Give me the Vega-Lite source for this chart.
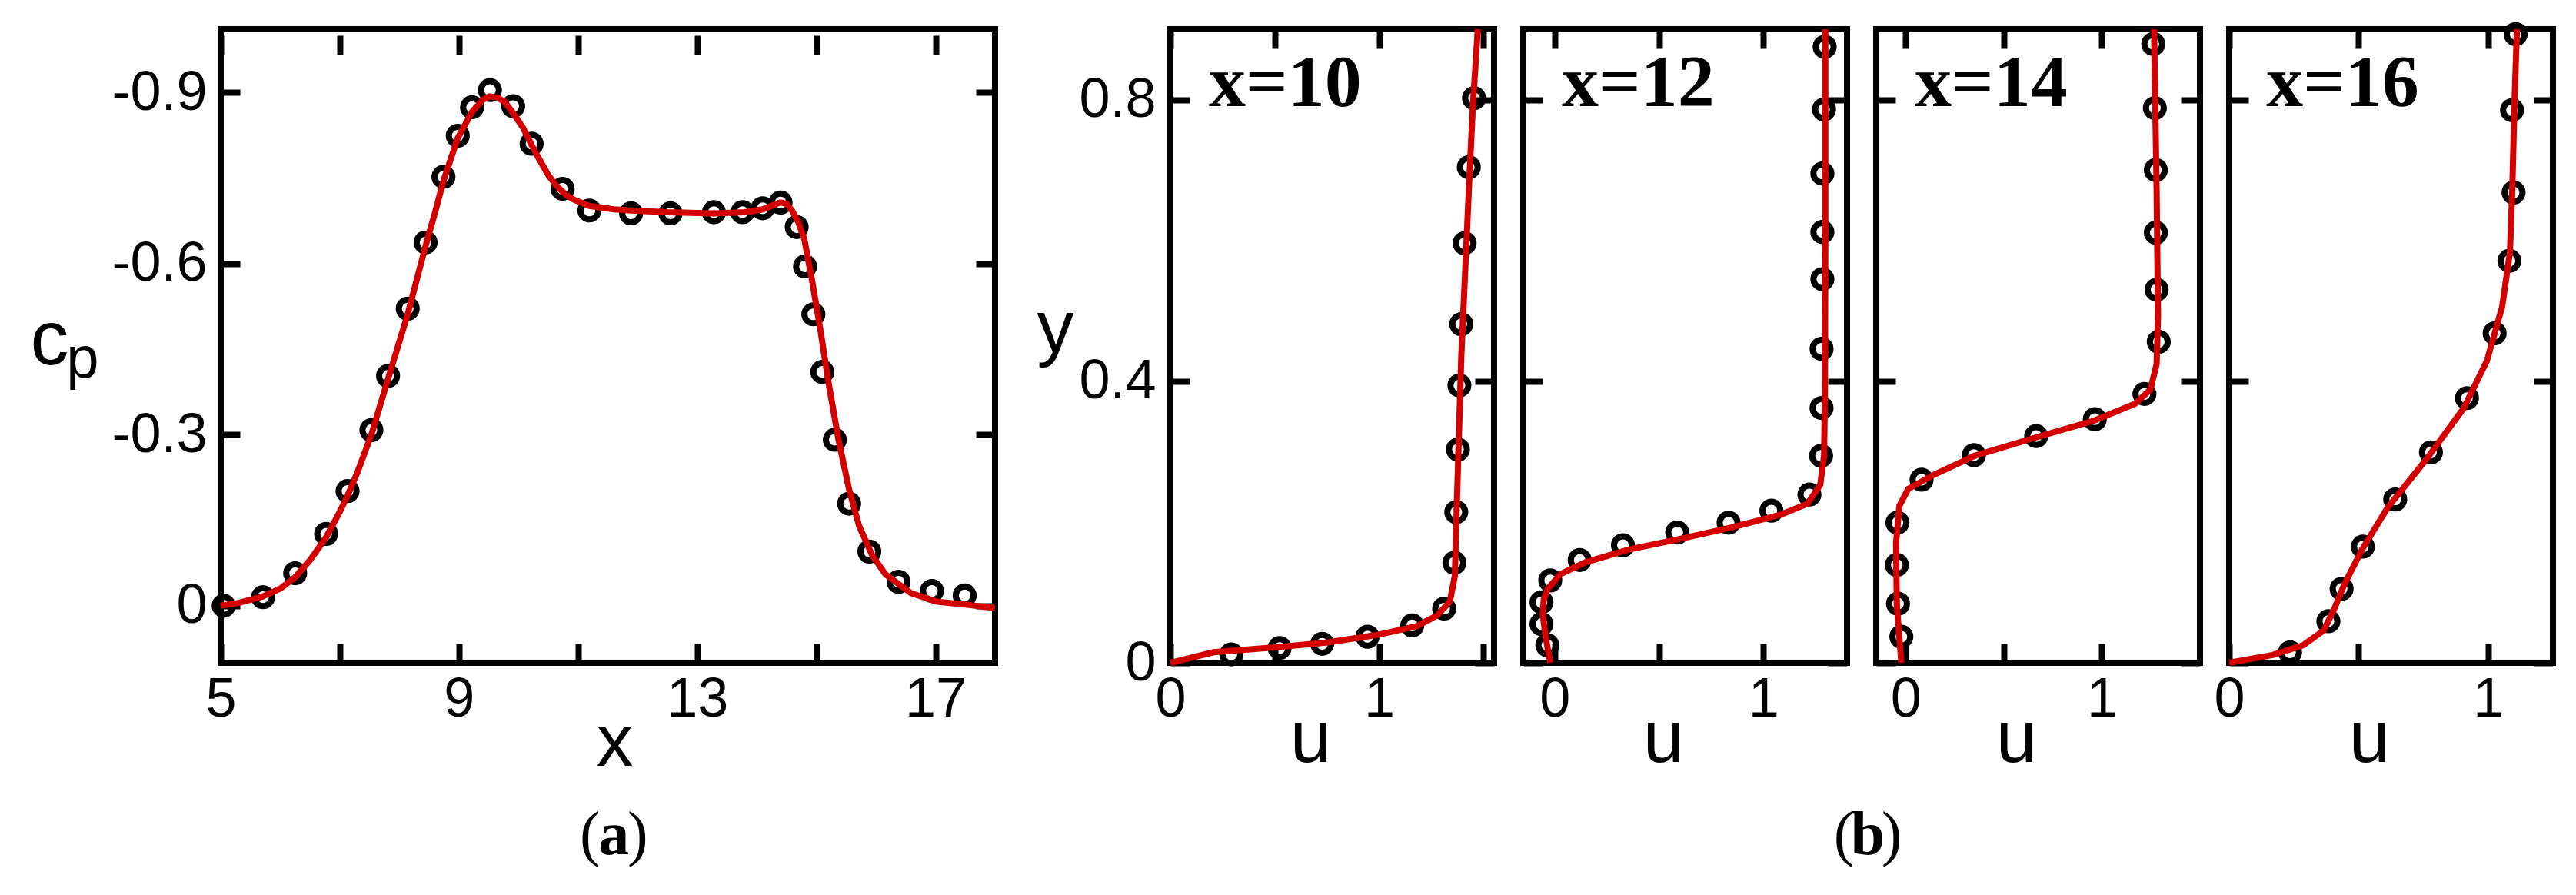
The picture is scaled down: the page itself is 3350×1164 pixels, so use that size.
{
  "$schema": "https://vega.github.io/schema/vega-lite/v6.json",
  "autosize": {"type": "none"},
  "padding": {"left": 287, "top": 38, "right": 3063, "bottom": 1126},
  "background": "white",
  "datasets": {
    "cp_exp": [
      {"x": 5.05, "cp": 0.0}, {"x": 5.71, "cp": -0.015}, {"x": 6.25, "cp": -0.057}, {"x": 6.77, "cp": -0.126},
      {"x": 7.13, "cp": -0.201}, {"x": 7.53, "cp": -0.308}, {"x": 7.81, "cp": -0.403}, {"x": 8.14, "cp": -0.521},
      {"x": 8.44, "cp": -0.637}, {"x": 8.74, "cp": -0.752}, {"x": 8.98, "cp": -0.824}, {"x": 9.22, "cp": -0.874},
      {"x": 9.52, "cp": -0.904}, {"x": 9.91, "cp": -0.876}, {"x": 10.22, "cp": -0.81}, {"x": 10.74, "cp": -0.731},
      {"x": 11.19, "cp": -0.693}, {"x": 11.89, "cp": -0.688}, {"x": 12.55, "cp": -0.688}, {"x": 13.28, "cp": -0.69},
      {"x": 13.76, "cp": -0.69}, {"x": 14.1, "cp": -0.697}, {"x": 14.4, "cp": -0.707}, {"x": 14.67, "cp": -0.664},
      {"x": 14.81, "cp": -0.595}, {"x": 14.95, "cp": -0.511}, {"x": 15.1, "cp": -0.41}, {"x": 15.31, "cp": -0.291},
      {"x": 15.55, "cp": -0.179}, {"x": 15.89, "cp": -0.095}, {"x": 16.38, "cp": -0.042}, {"x": 16.94, "cp": -0.026},
      {"x": 17.49, "cp": -0.018}
    ],
    "cp_sim": [
      {"x": 5.0, "cp": 0.0}, {"x": 5.3, "cp": -0.005}, {"x": 5.7, "cp": -0.016}, {"x": 6.0, "cp": -0.03},
      {"x": 6.25, "cp": -0.05}, {"x": 6.5, "cp": -0.08}, {"x": 6.77, "cp": -0.12}, {"x": 7.0, "cp": -0.165},
      {"x": 7.13, "cp": -0.193}, {"x": 7.3, "cp": -0.235}, {"x": 7.53, "cp": -0.3}, {"x": 7.81, "cp": -0.398},
      {"x": 8.14, "cp": -0.511}, {"x": 8.44, "cp": -0.631}, {"x": 8.6, "cp": -0.69}, {"x": 8.74, "cp": -0.745},
      {"x": 8.98, "cp": -0.82}, {"x": 9.22, "cp": -0.866}, {"x": 9.4, "cp": -0.887}, {"x": 9.51, "cp": -0.893},
      {"x": 9.65, "cp": -0.891}, {"x": 9.77, "cp": -0.883}, {"x": 9.9, "cp": -0.865}, {"x": 10.07, "cp": -0.839},
      {"x": 10.2, "cp": -0.812}, {"x": 10.32, "cp": -0.788}, {"x": 10.5, "cp": -0.755}, {"x": 10.63, "cp": -0.737},
      {"x": 10.8, "cp": -0.72}, {"x": 10.93, "cp": -0.712}, {"x": 11.19, "cp": -0.701}, {"x": 11.6, "cp": -0.695},
      {"x": 11.9, "cp": -0.693}, {"x": 12.5, "cp": -0.69}, {"x": 13.28, "cp": -0.688}, {"x": 13.8, "cp": -0.69},
      {"x": 14.1, "cp": -0.695}, {"x": 14.39, "cp": -0.707}, {"x": 14.5, "cp": -0.705}, {"x": 14.59, "cp": -0.693},
      {"x": 14.7, "cp": -0.672}, {"x": 14.8, "cp": -0.642}, {"x": 14.93, "cp": -0.569}, {"x": 15.06, "cp": -0.489},
      {"x": 15.2, "cp": -0.394}, {"x": 15.37, "cp": -0.292}, {"x": 15.55, "cp": -0.204}, {"x": 15.72, "cp": -0.139},
      {"x": 15.94, "cp": -0.088}, {"x": 16.16, "cp": -0.055}, {"x": 16.59, "cp": -0.022}, {"x": 17.03, "cp": -0.007},
      {"x": 17.5, "cp": -0.002}, {"x": 18.0, "cp": 0.004}
    ],
    "u_exp": [
      {"panel": 10, "u": 0.292, "y": 0.012}, {"panel": 10, "u": 0.523, "y": 0.021}, {"panel": 10, "u": 0.727, "y": 0.027},
      {"panel": 10, "u": 0.944, "y": 0.037}, {"panel": 10, "u": 1.158, "y": 0.053}, {"panel": 10, "u": 1.311, "y": 0.077},
      {"panel": 10, "u": 1.36, "y": 0.142}, {"panel": 10, "u": 1.369, "y": 0.214}, {"panel": 10, "u": 1.377, "y": 0.303},
      {"panel": 10, "u": 1.384, "y": 0.394}, {"panel": 10, "u": 1.393, "y": 0.481}, {"panel": 10, "u": 1.409, "y": 0.596},
      {"panel": 10, "u": 1.429, "y": 0.704}, {"panel": 10, "u": 1.454, "y": 0.802},
      {"panel": 12, "u": -0.035, "y": 0.025}, {"panel": 12, "u": -0.063, "y": 0.055}, {"panel": 12, "u": -0.063, "y": 0.086},
      {"panel": 12, "u": -0.021, "y": 0.117}, {"panel": 12, "u": 0.12, "y": 0.146}, {"panel": 12, "u": 0.327, "y": 0.167},
      {"panel": 12, "u": 0.587, "y": 0.185}, {"panel": 12, "u": 0.833, "y": 0.199}, {"panel": 12, "u": 1.038, "y": 0.216},
      {"panel": 12, "u": 1.22, "y": 0.239}, {"panel": 12, "u": 1.276, "y": 0.294}, {"panel": 12, "u": 1.278, "y": 0.362},
      {"panel": 12, "u": 1.278, "y": 0.446}, {"panel": 12, "u": 1.282, "y": 0.545}, {"panel": 12, "u": 1.282, "y": 0.612},
      {"panel": 12, "u": 1.282, "y": 0.695}, {"panel": 12, "u": 1.29, "y": 0.786}, {"panel": 12, "u": 1.293, "y": 0.875},
      {"panel": 14, "u": -0.022, "y": 0.037}, {"panel": 14, "u": -0.039, "y": 0.084}, {"panel": 14, "u": -0.045, "y": 0.139},
      {"panel": 14, "u": -0.042, "y": 0.199}, {"panel": 14, "u": 0.081, "y": 0.26}, {"panel": 14, "u": 0.348, "y": 0.295},
      {"panel": 14, "u": 0.665, "y": 0.322}, {"panel": 14, "u": 0.964, "y": 0.346}, {"panel": 14, "u": 1.217, "y": 0.382},
      {"panel": 14, "u": 1.29, "y": 0.456}, {"panel": 14, "u": 1.279, "y": 0.53}, {"panel": 14, "u": 1.275, "y": 0.611},
      {"panel": 14, "u": 1.275, "y": 0.7}, {"panel": 14, "u": 1.27, "y": 0.788}, {"panel": 14, "u": 1.262, "y": 0.879},
      {"panel": 16, "u": 0.235, "y": 0.015}, {"panel": 16, "u": 0.383, "y": 0.059}, {"panel": 16, "u": 0.434, "y": 0.105},
      {"panel": 16, "u": 0.516, "y": 0.165}, {"panel": 16, "u": 0.641, "y": 0.232}, {"panel": 16, "u": 0.779, "y": 0.299},
      {"panel": 16, "u": 0.918, "y": 0.376}, {"panel": 16, "u": 1.025, "y": 0.468}, {"panel": 16, "u": 1.082, "y": 0.571},
      {"panel": 16, "u": 1.098, "y": 0.668}, {"panel": 16, "u": 1.092, "y": 0.785}, {"panel": 16, "u": 1.106, "y": 0.893}
    ],
    "u_sim": [
      {"panel": 10, "u": 0.0, "y": 0.0}, {"panel": 10, "u": 0.207, "y": 0.015}, {"panel": 10, "u": 0.511, "y": 0.022},
      {"panel": 10, "u": 0.754, "y": 0.029}, {"panel": 10, "u": 0.998, "y": 0.04}, {"panel": 10, "u": 1.18, "y": 0.052},
      {"panel": 10, "u": 1.277, "y": 0.067}, {"panel": 10, "u": 1.338, "y": 0.087}, {"panel": 10, "u": 1.362, "y": 0.123},
      {"panel": 10, "u": 1.369, "y": 0.199}, {"panel": 10, "u": 1.381, "y": 0.317}, {"panel": 10, "u": 1.393, "y": 0.435},
      {"panel": 10, "u": 1.411, "y": 0.553}, {"panel": 10, "u": 1.429, "y": 0.671}, {"panel": 10, "u": 1.448, "y": 0.789},
      {"panel": 10, "u": 1.472, "y": 0.9},
      {"panel": 12, "u": -0.021, "y": 0.0}, {"panel": 12, "u": -0.045, "y": 0.04}, {"panel": 12, "u": -0.057, "y": 0.07},
      {"panel": 12, "u": -0.052, "y": 0.09}, {"panel": 12, "u": -0.033, "y": 0.105}, {"panel": 12, "u": 0.028, "y": 0.126},
      {"panel": 12, "u": 0.15, "y": 0.143}, {"panel": 12, "u": 0.357, "y": 0.161}, {"panel": 12, "u": 0.601, "y": 0.176},
      {"panel": 12, "u": 0.845, "y": 0.192}, {"panel": 12, "u": 1.089, "y": 0.211}, {"panel": 12, "u": 1.211, "y": 0.226},
      {"panel": 12, "u": 1.272, "y": 0.253}, {"panel": 12, "u": 1.29, "y": 0.294}, {"panel": 12, "u": 1.294, "y": 0.376},
      {"panel": 12, "u": 1.296, "y": 0.6}, {"panel": 12, "u": 1.296, "y": 0.9},
      {"panel": 14, "u": -0.022, "y": 0.0}, {"panel": 14, "u": -0.045, "y": 0.081}, {"panel": 14, "u": -0.049, "y": 0.17},
      {"panel": 14, "u": -0.032, "y": 0.223}, {"panel": 14, "u": 0.013, "y": 0.247}, {"panel": 14, "u": 0.143, "y": 0.267},
      {"panel": 14, "u": 0.351, "y": 0.294}, {"panel": 14, "u": 0.662, "y": 0.32}, {"panel": 14, "u": 0.961, "y": 0.344},
      {"panel": 14, "u": 1.169, "y": 0.368}, {"panel": 14, "u": 1.247, "y": 0.388}, {"panel": 14, "u": 1.279, "y": 0.424},
      {"panel": 14, "u": 1.286, "y": 0.494}, {"panel": 14, "u": 1.279, "y": 0.671}, {"panel": 14, "u": 1.266, "y": 0.9},
      {"panel": 16, "u": 0.0, "y": 0.0}, {"panel": 16, "u": 0.168, "y": 0.011}, {"panel": 16, "u": 0.286, "y": 0.025},
      {"panel": 16, "u": 0.365, "y": 0.046}, {"panel": 16, "u": 0.405, "y": 0.076}, {"panel": 16, "u": 0.444, "y": 0.111},
      {"panel": 16, "u": 0.513, "y": 0.161}, {"panel": 16, "u": 0.611, "y": 0.22}, {"panel": 16, "u": 0.759, "y": 0.288},
      {"panel": 16, "u": 0.906, "y": 0.362}, {"panel": 16, "u": 0.995, "y": 0.429}, {"panel": 16, "u": 1.054, "y": 0.506},
      {"panel": 16, "u": 1.084, "y": 0.583}, {"panel": 16, "u": 1.093, "y": 0.671}, {"panel": 16, "u": 1.101, "y": 0.789},
      {"panel": 16, "u": 1.111, "y": 0.9}
    ]
  },
  "hconcat": [
    {
      "width": 1007, "height": 824,
      "view": {"stroke": "black", "strokeWidth": 8},
      "layer": [
        {
          "data": {"name": "cp_exp"},
          "mark": {"type": "point", "shape": "circle", "filled": false, "color": "black", "strokeWidth": 8, "size": 540, "opacity": 1},
          "encoding": {
            "x": {"field": "x", "type": "quantitative", "scale": {"domain": [5, 18], "nice": false, "zero": false},
                  "axis": {"orient": "bottom", "values": [5, 7, 9, 11, 13, 15, 17], "labelExpr": "datum.value % 4 == 1 ? toString(datum.value) : ''",
                           "title": "x", "titleX": 512, "titleY": 133, "titleBaseline": "alphabetic", "titleAlign": "center"}},
            "y": {"field": "cp", "type": "quantitative", "scale": {"domain": [-1.0108, 0.1], "reverse": true, "nice": false, "zero": false},
                  "axis": {"orient": "left", "values": [-0.9, -0.6, -0.3, 0], "labelExpr": "toString(datum.value)",
                           "title": "c", "titleAngle": 0, "titleX": -223, "titleY": 435, "titleAlign": "center", "titleBaseline": "alphabetic", "titleFontSize": 100}}
          }
        },
        {
          "data": {"name": "cp_sim"},
          "mark": {"type": "line", "color": "#d40000", "strokeWidth": 8},
          "encoding": {
            "x": {"field": "x", "type": "quantitative", "axis": {"orient": "top", "offset": -8, "values": [5, 7, 9, 11, 13, 15, 17], "labels": false, "title": null}},
            "y": {"field": "cp", "type": "quantitative",
                  "axis": {"orient": "right", "values": [-0.9, -0.6, -0.3, 0], "labels": false,
                           "title": "p", "titleAngle": 0, "titleX": -1187, "titleY": 452, "titleAlign": "center", "titleBaseline": "alphabetic", "titleFontSize": 76}}
          }
        },
        {
          "data": {"values": [{"t": "("}]},
          "mark": {"type": "text", "font": "Liberation Serif", "fontSize": 80, "align": "center", "baseline": "alphabetic", "dx": -31, "color": "black"},
          "encoding": {"x": {"datum": 11.6, "type": "quantitative", "axis": null}, "y": {"datum": 0.436, "type": "quantitative", "axis": null}, "text": {"field": "t"}}
        },
        {
          "data": {"values": [{"t": "a"}]},
          "mark": {"type": "text", "font": "Liberation Serif", "fontSize": 80, "fontWeight": "bold", "align": "center", "baseline": "alphabetic", "color": "black"},
          "encoding": {"x": {"datum": 11.6, "type": "quantitative", "axis": null}, "y": {"datum": 0.436, "type": "quantitative", "axis": null}, "text": {"field": "t"}}
        },
        {
          "data": {"values": [{"t": ")"}]},
          "mark": {"type": "text", "font": "Liberation Serif", "fontSize": 80, "align": "center", "baseline": "alphabetic", "dx": 31, "color": "black"},
          "encoding": {"x": {"datum": 11.6, "type": "quantitative", "axis": null}, "y": {"datum": 0.436, "type": "quantitative", "axis": null}, "text": {"field": "t"}}
        }
      ],
      "resolve": {"axis": {"x": "independent", "y": "independent"}}
    },
    {
      "width": 152, "height": 1,
      "data": {"values": [{"s": 0}]},
      "mark": {"type": "point", "opacity": 0},
      "encoding": {}
    },
    {
      "width": 421, "height": 824,
      "view": {"stroke": "black", "strokeWidth": 8},
      "layer": [
        {
          "data": {"name": "u_exp"}, "transform": [{"filter": "datum.panel == 10"}],
          "mark": {"type": "point", "shape": "circle", "filled": false, "color": "black", "strokeWidth": 8, "size": 540, "opacity": 1},
          "encoding": {
            "x": {"field": "u", "type": "quantitative", "scale": {"domain": [0, 1.55], "nice": false, "zero": false},
                  "axis": {"orient": "bottom", "values": [0, 0.5, 1, 1.5], "labelExpr": "datum.value == 0 || datum.value == 1 ? toString(datum.value) : ''",
                           "title": "u", "titleX": 182, "titleY": 128, "titleBaseline": "alphabetic", "titleAlign": "center"}},
            "y": {"field": "y", "type": "quantitative", "scale": {"domain": [0, 0.9], "nice": false, "zero": false},
                  "axis": {"orient": "left", "values": [0, 0.4, 0.8], "labelExpr": "toString(datum.value)", "labelPadding": 44,
                           "title": "y", "titleAngle": 0, "titleX": -150, "titleY": 419, "titleAlign": "center", "titleBaseline": "alphabetic"}}
          }
        },
        {
          "data": {"name": "u_sim"}, "transform": [{"filter": "datum.panel == 10"}],
          "mark": {"type": "line", "color": "#d40000", "strokeWidth": 8},
          "encoding": {
            "x": {"field": "u", "type": "quantitative", "axis": {"orient": "top", "values": [0, 0.5, 1, 1.5], "labels": false, "title": null}},
            "y": {"field": "y", "type": "quantitative", "axis": {"orient": "right", "values": [0, 0.4, 0.8], "labels": false, "title": null}},
            "order": {"field": "y", "type": "quantitative"}
          }
        },
        {
          "data": {"values": [{"t": "x=10"}]},
          "mark": {"type": "text", "font": "Liberation Serif", "fontSize": 96, "fontWeight": "bold", "align": "left", "baseline": "alphabetic", "color": "black"},
          "encoding": {"x": {"datum": 0.184, "type": "quantitative", "axis": null}, "y": {"datum": 0.791, "type": "quantitative", "axis": null}, "text": {"field": "t"}}
        }
      ],
      "resolve": {"axis": {"x": "independent", "y": "independent"}}
    },
    {
      "width": 421, "height": 824,
      "view": {"stroke": "black", "strokeWidth": 8},
      "layer": [
        {
          "data": {"name": "u_exp"}, "transform": [{"filter": "datum.panel == 12"}],
          "mark": {"type": "point", "shape": "circle", "filled": false, "color": "black", "strokeWidth": 8, "size": 540, "opacity": 1},
          "encoding": {
            "x": {"field": "u", "type": "quantitative", "scale": {"domain": [-0.15, 1.4], "nice": false, "zero": false},
                  "axis": {"orient": "bottom", "values": [0, 0.5, 1], "labelExpr": "datum.value == 0 || datum.value == 1 ? toString(datum.value) : ''",
                           "title": "u", "titleX": 182, "titleY": 128, "titleBaseline": "alphabetic", "titleAlign": "center"}},
            "y": {"field": "y", "type": "quantitative", "scale": {"domain": [0, 0.9], "nice": false, "zero": false},
                  "axis": {"orient": "left", "values": [0, 0.4, 0.8], "labels": false, "title": null}}
          }
        },
        {
          "data": {"name": "u_sim"}, "transform": [{"filter": "datum.panel == 12"}],
          "mark": {"type": "line", "color": "#d40000", "strokeWidth": 8},
          "encoding": {
            "x": {"field": "u", "type": "quantitative", "axis": {"orient": "top", "values": [0, 0.5, 1], "labels": false, "title": null}},
            "y": {"field": "y", "type": "quantitative", "axis": {"orient": "right", "values": [0, 0.4, 0.8], "labels": false, "title": null}},
            "order": {"field": "y", "type": "quantitative"}
          }
        },
        {
          "data": {"values": [{"t": "x=12"}]},
          "mark": {"type": "text", "font": "Liberation Serif", "fontSize": 96, "fontWeight": "bold", "align": "left", "baseline": "alphabetic", "color": "black"},
          "encoding": {"x": {"datum": 0.034, "type": "quantitative", "axis": null}, "y": {"datum": 0.791, "type": "quantitative", "axis": null}, "text": {"field": "t"}}
        }
      ],
      "resolve": {"axis": {"x": "independent", "y": "independent"}}
    },
    {
      "width": 421, "height": 824,
      "view": {"stroke": "black", "strokeWidth": 8},
      "layer": [
        {
          "data": {"name": "u_exp"}, "transform": [{"filter": "datum.panel == 14"}],
          "mark": {"type": "point", "shape": "circle", "filled": false, "color": "black", "strokeWidth": 8, "size": 540, "opacity": 1},
          "encoding": {
            "x": {"field": "u", "type": "quantitative", "scale": {"domain": [-0.15, 1.5], "nice": false, "zero": false},
                  "axis": {"orient": "bottom", "values": [0, 0.5, 1], "labelExpr": "datum.value == 0 || datum.value == 1 ? toString(datum.value) : ''",
                           "title": "u", "titleX": 182, "titleY": 128, "titleBaseline": "alphabetic", "titleAlign": "center"}},
            "y": {"field": "y", "type": "quantitative", "scale": {"domain": [0, 0.9], "nice": false, "zero": false},
                  "axis": {"orient": "left", "values": [0, 0.4, 0.8], "labels": false, "title": null}}
          }
        },
        {
          "data": {"name": "u_sim"}, "transform": [{"filter": "datum.panel == 14"}],
          "mark": {"type": "line", "color": "#d40000", "strokeWidth": 8},
          "encoding": {
            "x": {"field": "u", "type": "quantitative", "axis": {"orient": "top", "values": [0, 0.5, 1], "labels": false, "title": null}},
            "y": {"field": "y", "type": "quantitative", "axis": {"orient": "right", "values": [0, 0.4, 0.8], "labels": false, "title": null}},
            "order": {"field": "y", "type": "quantitative"}
          }
        },
        {
          "data": {"values": [{"t": "x=14"}]},
          "mark": {"type": "text", "font": "Liberation Serif", "fontSize": 96, "fontWeight": "bold", "align": "left", "baseline": "alphabetic", "color": "black"},
          "encoding": {"x": {"datum": 0.046, "type": "quantitative", "axis": null}, "y": {"datum": 0.791, "type": "quantitative", "axis": null}, "text": {"field": "t"}}
        },
        {
          "data": {"values": [{"t": "("}]},
          "mark": {"type": "text", "font": "Liberation Serif", "fontSize": 80, "align": "center", "baseline": "alphabetic", "dx": -31, "color": "black"},
          "encoding": {"x": {"datum": -0.193, "type": "quantitative", "axis": null}, "y": {"datum": -0.272, "type": "quantitative", "axis": null}, "text": {"field": "t"}}
        },
        {
          "data": {"values": [{"t": "b"}]},
          "mark": {"type": "text", "font": "Liberation Serif", "fontSize": 80, "fontWeight": "bold", "align": "center", "baseline": "alphabetic", "color": "black"},
          "encoding": {"x": {"datum": -0.193, "type": "quantitative", "axis": null}, "y": {"datum": -0.272, "type": "quantitative", "axis": null}, "text": {"field": "t"}}
        },
        {
          "data": {"values": [{"t": ")"}]},
          "mark": {"type": "text", "font": "Liberation Serif", "fontSize": 80, "align": "center", "baseline": "alphabetic", "dx": 31, "color": "black"},
          "encoding": {"x": {"datum": -0.193, "type": "quantitative", "axis": null}, "y": {"datum": -0.272, "type": "quantitative", "axis": null}, "text": {"field": "t"}}
        }
      ],
      "resolve": {"axis": {"x": "independent", "y": "independent"}}
    },
    {
      "width": 421, "height": 824,
      "view": {"stroke": "black", "strokeWidth": 8},
      "layer": [
        {
          "data": {"name": "u_exp"}, "transform": [{"filter": "datum.panel == 16"}],
          "mark": {"type": "point", "shape": "circle", "filled": false, "color": "black", "strokeWidth": 8, "size": 540, "opacity": 1},
          "encoding": {
            "x": {"field": "u", "type": "quantitative", "scale": {"domain": [0, 1.25], "nice": false, "zero": false},
                  "axis": {"orient": "bottom", "values": [0, 0.5, 1], "labelExpr": "datum.value == 0 || datum.value == 1 ? toString(datum.value) : ''",
                           "title": "u", "titleX": 182, "titleY": 128, "titleBaseline": "alphabetic", "titleAlign": "center"}},
            "y": {"field": "y", "type": "quantitative", "scale": {"domain": [0, 0.9], "nice": false, "zero": false},
                  "axis": {"orient": "left", "values": [0, 0.4, 0.8], "labels": false, "title": null}}
          }
        },
        {
          "data": {"name": "u_sim"}, "transform": [{"filter": "datum.panel == 16"}],
          "mark": {"type": "line", "color": "#d40000", "strokeWidth": 8},
          "encoding": {
            "x": {"field": "u", "type": "quantitative", "axis": {"orient": "top", "values": [0, 0.5, 1], "labels": false, "title": null}},
            "y": {"field": "y", "type": "quantitative", "axis": {"orient": "right", "values": [0, 0.4, 0.8], "labels": false, "title": null}},
            "order": {"field": "y", "type": "quantitative"}
          }
        },
        {
          "data": {"values": [{"t": "x=16"}]},
          "mark": {"type": "text", "font": "Liberation Serif", "fontSize": 96, "fontWeight": "bold", "align": "left", "baseline": "alphabetic", "color": "black"},
          "encoding": {"x": {"datum": 0.143, "type": "quantitative", "axis": null}, "y": {"datum": 0.791, "type": "quantitative", "axis": null}, "text": {"field": "t"}}
        }
      ],
      "resolve": {"axis": {"x": "independent", "y": "independent"}}
    }
  ],
  "spacing": 38,
  "bounds": "flush",
  "config": {
    "view": {"stroke": null},
    "axis": {
      "grid": false, "domain": false, "ticks": true, "tickColor": "black", "tickWidth": 8, "tickSize": -25,
      "labelFont": "Liberation Sans", "labelFontSize": 72, "labelColor": "black", "labelFlush": false, "labelOverlap": false, "labelPadding": 37,
      "titleFont": "Liberation Sans", "titleFontSize": 96, "titleFontWeight": "normal", "titleColor": "black", "titlePadding": 0
    },
    "axisLeft": {"labelPadding": 43}
  }
}
